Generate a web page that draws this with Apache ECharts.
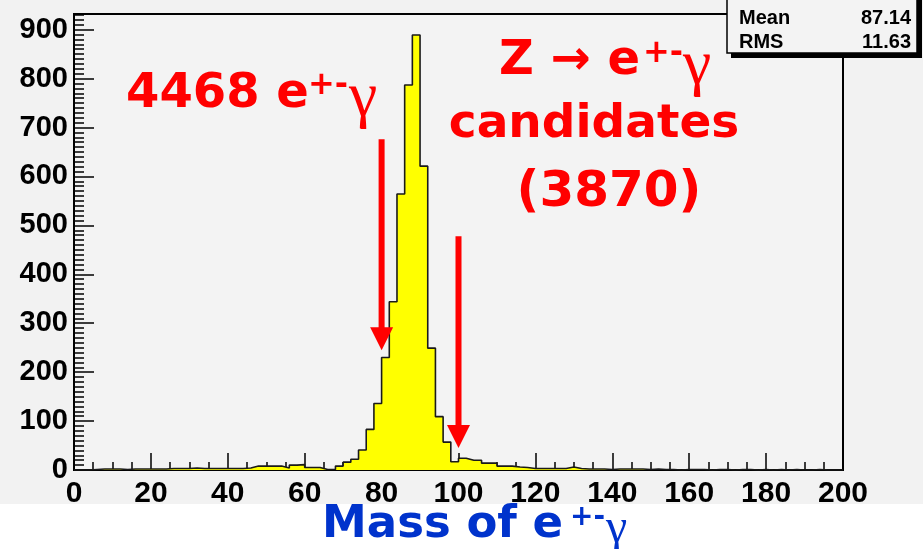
<!DOCTYPE html>
<html>
<head>
<meta charset="utf-8">
<script src="https://cdn.jsdelivr.net/npm/echarts@6/dist/echarts.min.js"></script>
<style>
  html, body { margin: 0; padding: 0; background: #f2f2f2; }
  #chart { width: 923px; height: 549px; }
</style>
</head>
<body>
<div id="chart"></div>
<script>
// Invariant mass of e±γ pairs, 2 GeV bins from 0 to 200
const binLow = [
  0, 2, 4, 6, 8, 10, 12, 14, 16, 18,
  20, 22, 24, 26, 28, 30, 32, 34, 36, 38,
  40, 42, 44, 46, 48, 50, 52, 54, 56, 58,
  60, 62, 64, 66, 68, 70, 72, 74, 76, 78,
  80, 82, 84, 86, 88, 90, 92, 94, 96, 98,
  100, 102, 104, 106, 108, 110, 112, 114, 116, 118,
  120, 122, 124, 126, 128, 130, 132, 134, 136, 138,
  140, 142, 144, 146, 148, 150, 152, 154, 156, 158,
  160, 162, 164, 166, 168, 170, 172, 174, 176, 178,
  180, 182, 184, 186, 188, 190, 192, 194, 196, 198
];
const binCounts = [
  0, 0, 1, 2, 2, 2, 1, 2, 2, 2,
  2, 2, 3, 3, 3, 4, 3, 3, 3, 3,
  3, 3, 4, 8, 8, 8, 8, 4, 10, 11,
  5, 5, 1, 1, 8, 16, 22, 41, 83, 136,
  230, 344, 564, 787, 889, 621, 249, 109, 57, 17,
  24, 20, 20, 14, 14, 8, 8, 6, 5, 3,
  3, 3, 3, 3, 6, 3, 2, 2, 2, 1,
  2, 2, 2, 2, 1, 2, 1, 1, 0, 1,
  1, 1, 0, 1, 1, 0, 1, 1, 0, 1,
  0, 1, 0, 1, 0, 0, 1, 0, 0, 0
];
const xRange = [0, 200];
const yRange = [0, 932];
const xTickValues = [0, 20, 40, 60, 80, 100, 120, 140, 160, 180, 200];
const yTickValues = [0, 100, 200, 300, 400, 500, 600, 700, 800, 900];

// Mass window cuts marked by arrows: x position, arrow top, arrow tip (counts)
const cutMass = [80, 100];
const cutArrowTop = [676, 478];
const cutArrowTip = [245, 45];

// Statistics box entries
const statNames = ['Mean', 'RMS'];
const statValues = ['87.14', '11.63'];

// Step outline of the histogram: one point per bin low edge, closed at both ends
const stepData = [[xRange[0], 0]];
for (let i = 0; i < binLow.length; i++) stepData.push([binLow[i], binCounts[i]]);
stepData.push([xRange[1], binCounts[binCounts.length - 1]]);
stepData.push([xRange[1], 0]);

const RED = '#ff0000';
const BLUE = '#0033cc';
const BOLD_SANS = '"DejaVu Sans", Verdana, sans-serif';
const AXIS_FONT = '"Liberation Sans", Arial, Helvetica, sans-serif';
const GREEK = '"Liberation Serif", "Times New Roman", serif';

const chart = echarts.init(document.getElementById('chart'), null, { renderer: 'canvas' });

chart.setOption({
  animation: false,
  backgroundColor: '#f2f2f2',
  grid: {
    left: 74, right: 80, top: 14, bottom: 79,
    show: true, backgroundColor: '#f3f3f3', borderColor: '#000', borderWidth: 2
  },
  xAxis: {
    type: 'value', min: xRange[0], max: xRange[1], interval: 20,
    axisLine: { lineStyle: { color: '#000', width: 2 } },
    axisTick: { inside: true, length: 17, lineStyle: { color: '#000', width: 1.5 }, customValues: xTickValues },
    minorTick: { show: true, splitNumber: 4, length: 8, lineStyle: { color: '#000', width: 1.5 } },
    splitLine: { show: false },
    axisLabel: {
      customValues: xTickValues, margin: 9,
      color: '#000', fontFamily: AXIS_FONT, fontWeight: 'bold', fontSize: 30
    }
  },
  yAxis: {
    type: 'value', min: yRange[0], max: yRange[1], interval: 100,
    axisLine: { show: true, lineStyle: { color: '#000', width: 2 } },
    axisTick: { show: true, inside: true, length: 20, lineStyle: { color: '#000', width: 1.5 }, customValues: yTickValues },
    minorTick: { show: true, splitNumber: 10, length: 10, lineStyle: { color: '#000', width: 1.5 } },
    splitLine: { show: false },
    axisLabel: {
      customValues: yTickValues, margin: 6,
      color: '#000', fontFamily: AXIS_FONT, fontWeight: 'bold', fontSize: 29
    }
  },
  series: [{
    type: 'line',
    data: stepData,
    step: 'end',
    symbol: 'none',
    silent: true,
    lineStyle: { color: '#1a1a1a', width: 1.6 },
    areaStyle: { color: '#ffff00', opacity: 1 },
    z: 2
  }]
});

// Annotation layer: text, stats box and cut arrows
const graphics = [];

// white strip under the frame that holds the axis title
graphics.push({ type: 'rect', z: -10, silent: true, shape: { x: 0, y: 504, width: 923, height: 45 }, style: { fill: '#ffffff' } });

// arrows placed in data coordinates
for (let i = 0; i < cutMass.length; i++) {
  const top = chart.convertToPixel({ gridIndex: 0 }, [cutMass[i], cutArrowTop[i]]);
  const tip = chart.convertToPixel({ gridIndex: 0 }, [cutMass[i], cutArrowTip[i]]);
  const headLen = 23, headHalf = 11.5, shaft = 6;
  graphics.push({
    type: 'rect', z: 100, silent: true,
    shape: { x: top[0] - shaft / 2, y: top[1], width: shaft, height: tip[1] - headLen - top[1] + 1 },
    style: { fill: RED }
  });
  graphics.push({
    type: 'polygon', z: 100, silent: true,
    shape: { points: [[tip[0] - headHalf, tip[1] - headLen], [tip[0] + headHalf, tip[1] - headLen], [tip[0], tip[1]]] },
    style: { fill: RED }
  });
}

function txt(text, x, y, font, color, align, extra) {
  return Object.assign({
    type: 'text', z: 110, silent: true, x: x, y: y,
    style: { text: text, font: font, fill: color, align: align || 'left', verticalAlign: 'middle' }
  }, extra || {});
}

// "4468 e±γ"
graphics.push(txt('4468 e', 126, 95, 'bold 48px ' + BOLD_SANS, RED));
graphics.push(txt('+-', 308, 86, 'bold 32px ' + BOLD_SANS, RED));
graphics.push(txt('γ', 349, 98, '64px ' + GREEK, RED));

// "Z → e±γ candidates (3870)"
graphics.push(txt('Z \u2192 e', 499, 62, 'bold 48px ' + BOLD_SANS, RED));
graphics.push(txt('+-', 643, 54, 'bold 32px ' + BOLD_SANS, RED));
graphics.push(txt('γ', 683, 66, '64px ' + GREEK, RED));
graphics.push(txt('candidates', 594, 125, 'bold 47px ' + BOLD_SANS, RED, 'center'));
graphics.push(txt('(3870)', 609, 193, 'bold 50px ' + BOLD_SANS, RED, 'center'));

// x-axis title "Mass of e±γ"
graphics.push(txt('Mass of e', 322, 525, 'bold 45px ' + BOLD_SANS, BLUE));
graphics.push(txt('+-', 570, 518, 'bold 28px ' + BOLD_SANS, BLUE));
graphics.push(txt('γ', 606, 529, '48px ' + GREEK, BLUE));

// statistics box with drop shadow
graphics.push({ type: 'rect', z: 120, silent: true, shape: { x: 731, y: -6, width: 191, height: 64 }, style: { fill: '#000' } });
graphics.push({ type: 'rect', z: 121, silent: true, shape: { x: 727, y: -6, width: 190, height: 59 }, style: { fill: '#f3f3f3', stroke: '#000', lineWidth: 1.5 } });
for (let i = 0; i < statNames.length; i++) {
  const y = 18 + i * 24;
  graphics.push(txt(statNames[i], 739, y, 'bold 20px ' + AXIS_FONT, '#000', 'left', { z: 122 }));
  graphics.push(txt(statValues[i], 911, y, 'bold 20px ' + AXIS_FONT, '#000', 'right', { z: 122 }));
}

chart.setOption({ graphic: graphics });
</script>
</body>
</html>
